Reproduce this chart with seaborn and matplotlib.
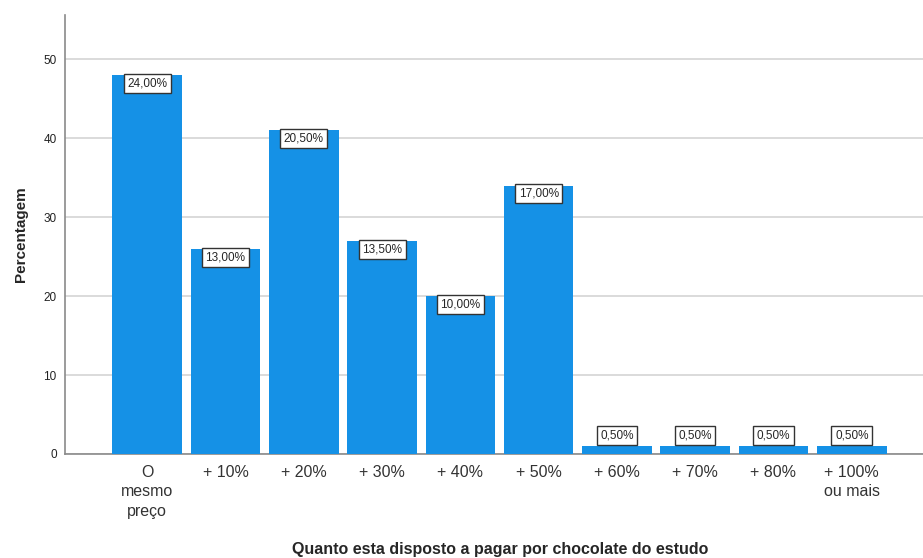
import matplotlib
matplotlib.use("Agg")
import matplotlib.pyplot as plt
import seaborn as sns
import pandas as pd

categories = ["O\nmesmo\npreço", "+ 10%", "+ 20%", "+ 30%", "+ 40%", "+ 50%",
              "+ 60%", "+ 70%", "+ 80%", "+ 100%\nou mais"]
counts = [48, 26, 41, 27, 20, 34, 1, 1, 1, 1]
y_ticks = [0, 10, 20, 30, 40, 50]

total = sum(counts)
shares = [c / total * 100 for c in counts]

df = pd.DataFrame({"cat": categories, "val": counts})

sns.set_style("white")
plt.rcParams["font.family"] = ["Liberation Sans", "DejaVu Sans"]

fig = plt.figure(figsize=(9.23, 5.58), dpi=100)
ax = fig.add_axes([65 / 923, 1 - 454 / 558, 1 - 65 / 923, (454 - 15) / 558])

bar_color = "#1591e6"
sns.barplot(data=df, x="cat", y="val", color=bar_color, saturation=1,
            width=0.89, ax=ax, zorder=3)
for p in ax.patches:
    p.set_edgecolor("none")

ax.set_xlim(-1.05, 9.91)
ax.set_ylim(0, 55.6)
ax.set_yticks(y_ticks)
ax.yaxis.grid(True, color="#d4d4d4", linewidth=1.2, zorder=0)
ax.set_axisbelow(True)

ax.tick_params(axis="y", length=0, labelsize=8.5, pad=6, labelcolor="#222222")
ax.tick_params(axis="x", length=0, labelsize=11.5, pad=8, labelcolor="#333333")
for lbl in ax.get_xticklabels():
    lbl.set_linespacing(1.35)

for side in ["top", "right"]:
    ax.spines[side].set_visible(False)
for side in ["left", "bottom"]:
    ax.spines[side].set_color("#8a8a8a")
    ax.spines[side].set_linewidth(1.2)

ax.set_ylabel("Percentagem", fontsize=11, fontweight="bold")
ax.yaxis.set_label_coords(-37 / 858, 0.5)
ax.set_xlabel("Quanto esta disposto a pagar por chocolate do estudo",
              fontsize=11.5, fontweight="bold")
ax.xaxis.set_label_coords(0.507, -0.2)

box = dict(boxstyle="square,pad=0.3", facecolor="white", edgecolor="#333333",
           linewidth=1)
for i, (c, s) in enumerate(zip(counts, shares)):
    txt = f"{s:.2f}".replace(".", ",") + "%"
    if c > 5:
        ax.text(i, c - 0.3, txt, ha="center", va="top", fontsize=8.5,
                bbox=box, zorder=5)
    else:
        ax.text(i, c + 0.55, txt, ha="center", va="bottom", fontsize=8.5,
                bbox=box, zorder=5)

fig.savefig("out.png", dpi=100)
